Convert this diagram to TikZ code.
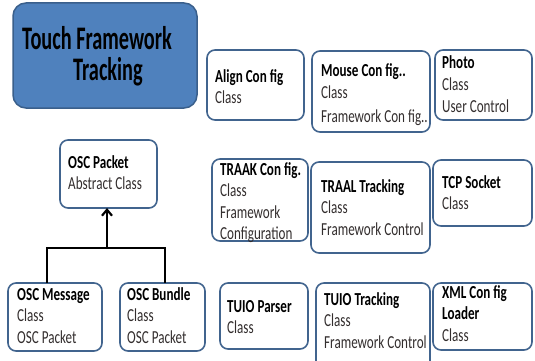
\documentclass[tikz,border=0pt]{standalone}
\usepackage{fontspec}
\setmainfont{Carlito}
\usetikzlibrary{arrows.meta}
\definecolor{edge}{HTML}{41648E}
\definecolor{titlefill}{HTML}{4F81BD}
\definecolor{titleedge}{HTML}{3A5F8B}
\definecolor{sub}{HTML}{332E2E}
\tikzset{
  x=1pt, y=1pt,
  box/.style={draw=edge, line width=1.6pt, rounded corners=8pt, fill=white},
  txt/.style={anchor=base west, inner sep=0pt, yscale=1.40,
    font=\fontsize{13.1}{15.4}\selectfont, text=sub},
  link/.style={line width=2pt, black},
}
\newcommand{\lines}[1]{\begin{tabular}[t]{@{}l@{}}#1\end{tabular}}
\newcommand{\hd}[1]{\textcolor{black}{\bfseries #1}}
\begin{document}
\begin{tikzpicture}
\useasboundingbox (0,0) rectangle (535,-361);
% title
\draw[fill=titlefill, draw=titleedge, line width=1.5pt, rounded corners=13pt] (13,-3) rectangle (197,-108);
\node[anchor=base west, inner sep=0pt, yscale=1.62, font=\fontsize{20.3}{20}\selectfont\bfseries] (t1) at (22,-50) {Touch Framework};
\node[anchor=base west, inner sep=0pt, yscale=1.62, font=\fontsize{20.3}{20}\selectfont\bfseries] (t2) at (73,-81) {Tracking};
% boxes
\draw[box] (207,-50) rectangle (304,-120);
\draw[box] (312,-51) rectangle (430,-132);
\draw[box] (435,-50) rectangle (532,-120);
\draw[box] (60,-140) rectangle (157,-208);
\draw[box] (212,-159) rectangle (308,-241);
\draw[box] (311,-162) rectangle (430,-253);
\draw[box] (433,-160) rectangle (532,-226);
\draw[box] (220,-283) rectangle (308,-349);
\draw[box] (316,-283) rectangle (430,-372);
\draw[box] (433,-283) rectangle (532,-350);
\draw[box] (8,-283) rectangle (102,-351);
\draw[box] (120,-283) rectangle (205,-351);
% named anchor points for connectors
\coordinate (pkt) at (107,-208);
\coordinate (junc) at (107,-248);
\coordinate (msgL) at (47,-248);
\coordinate (msgT) at (47,-283);
\coordinate (bunR) at (165,-248);
\coordinate (bunT) at (165,-283);
\draw[link] (msgT) -- (msgL) -- (bunR) -- (bunT);
\draw[link, -{Straight Barb[length=6pt,width=10pt,line width=2.2pt]}] (junc) -- (pkt);
% texts
\node[txt] (align) at (215,-82) {\lines{\hd{Align Con fig}\\Class}};
\node[txt] (mouse) at (321,-77) {\lines{\hd{Mouse Con fig..}\\Class\\[1.5pt]Framework Con fig..}};
\node[txt] (photo) at (442,-69) {\lines{\hd{Photo}\\Class\\User Control}};
\node[txt] (oscp) at (68,-168) {\lines{\hd{OSC Packet}\\Abstract Class}};
\node[txt] (traak) at (220,-175) {\lines{\hd{TRAAK Con fig.}\\Class\\Framework\\Configuration}};
\node[txt] (traal) at (321,-192) {\lines{\hd{TRAAL Tracking}\\Class\\Framework Control}};
\node[txt] (tcp) at (442,-188) {\lines{\hd{TCP Socket}\\Class}};
\node[txt] (tuiop) at (227,-312) {\lines{\hd{TUIO Parser}\\Class}};
\node[txt] (tuiot) at (324,-305) {\lines{\hd{TUIO Tracking}\\Class\\Framework Control}};
\node[txt] (xml) at (442,-298) {\lines{\hd{XML Con fig}\\\hd{Loader}\\Class}};
\node[txt] (oscm) at (17,-300) {\lines{\hd{OSC Message}\\Class\\OSC Packet}};
\node[txt] (oscb) at (127,-300) {\lines{\hd{OSC Bundle}\\Class\\OSC Packet}};
\end{tikzpicture}
\end{document}
